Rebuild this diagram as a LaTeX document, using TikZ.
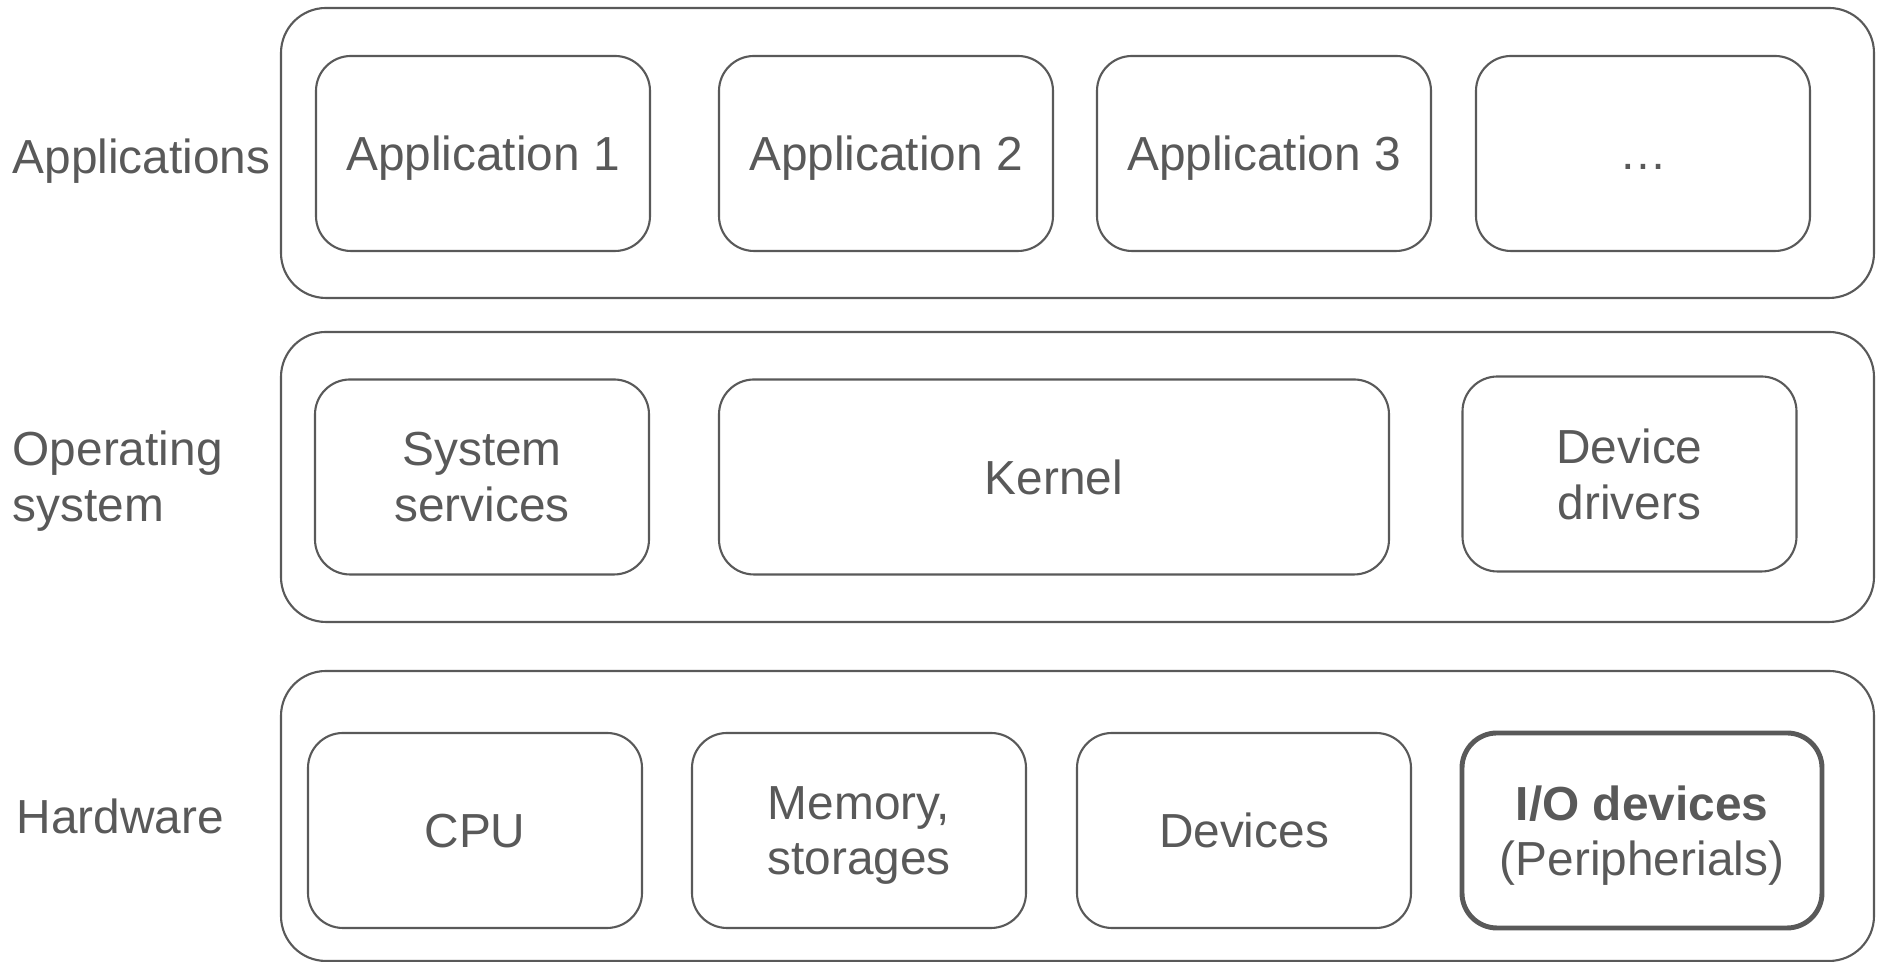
\documentclass[tikz,border=0pt]{standalone}
\usepackage{fontspec}
\setmainfont{Liberation Sans}
\usetikzlibrary{positioning}
\definecolor{slategray}{HTML}{595959}

\tikzset{
    layer/.style={rectangle, draw=slategray, rounded corners=0.45cm, line width=0.6pt,
        minimum width=15.93cm, minimum height=2.90cm},
    block/.style={rectangle, draw=slategray, rounded corners=0.35cm, line width=0.6pt,
        minimum width=3.34cm, minimum height=1.95cm, align=center, inner sep=0pt, text depth=0pt},
    iobox/.style={block, line width=1.4pt, minimum width=3.60cm},
    caption/.style={anchor=west, align=left, inner sep=0pt, text depth=0pt}
}

\begin{document}
\begin{tikzpicture}[every node/.style={text=slategray, font=\fontsize{13.6}{15.8}\selectfont}]
    \useasboundingbox (0,0) rectangle (18.78,9.62);

    % layers
    \node [layer] (apps) at (10.775,8.09) {};
    \node [layer] (os) at (10.775,4.85) {};
    \node [layer] (hw) at (10.775,1.46) {};

    \node [caption] (appslabel) at (0.12,8.06) {Applications};
    \node [caption] (oslabel) at (0.12,4.86) {Operating\\system};
    \node [caption] (hwlabel) at (0.16,1.46) {Hardware};

    % applications
    \node [block] (app1) at (4.83,8.085) {Application 1};
    \node [block] (app2) at (8.86,8.085) {Application 2};
    \node [block] (app3) at (12.64,8.085) {Application 3};
    \node [block] (more) at (16.43,8.085) {\vphantom{A}…};

    % operating system
    \node [block] (services) at (4.82,4.85) {System\\services};
    \node [block, minimum width=6.70cm] (kernel) at (10.54,4.85) {Kernel};
    \node [block] (drivers) at (16.295,4.88) {Device\\drivers};

    % hardware
    \node [block] (cpu) at (4.75,1.315) {CPU};
    \node [block] (memory) at (8.59,1.315) {Memory,\\storages};
    \node [block] (devices) at (12.44,1.315) {Devices};
    \node [iobox] (io) at (16.42,1.315) {\textbf{I/O devices}\\(Peripherials)};
\end{tikzpicture}
\end{document}
